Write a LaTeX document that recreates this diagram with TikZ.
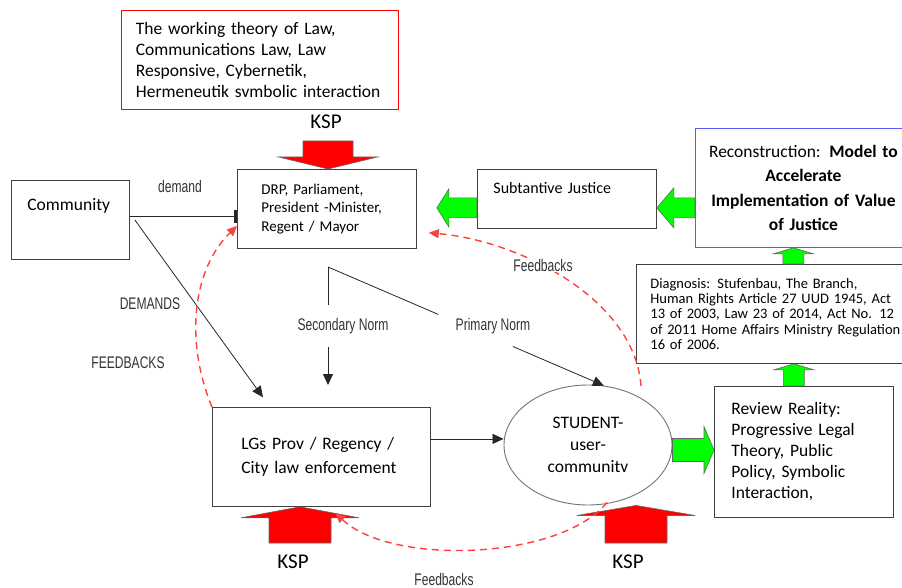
\documentclass[tikz,border=0pt]{standalone}
\usepackage{fontspec}
\setmainfont{Carlito}
\newfontfamily\agency[FakeStretch=0.72]{Liberation Sans}
\usetikzlibrary{arrows.meta,calc,positioning,shapes.geometric}

\definecolor{kspred}{RGB}{255,0,0}
\definecolor{justgreen}{RGB}{0,255,0}
\definecolor{fbred}{RGB}{255,64,64}
\definecolor{boxgray}{RGB}{64,64,64}
\definecolor{reconblue}{RGB}{90,90,255}

\tikzset{
  box/.style={draw=boxgray, line width=0.8pt, anchor=north west, align=left},
  txt/.style={font=\fontsize{17.5}{21}\selectfont},
  tag/.style={font=\agency\fontsize{16.8}{19}\selectfont, text=black!80, inner sep=1pt},
  ksp/.style={font=\fontsize{21}{24}\selectfont, inner sep=0pt},
  arr/.style={draw=black!85, line width=0.8pt, -{Triangle[length=11pt,width=10pt]}},
  fb/.style={draw=fbred, line width=1.4pt, dash pattern=on 7pt off 5pt, -{Triangle[length=10pt,width=9pt]}},
  fat arrow/.style n args={3}{to path={
    ($(\tikztotarget)!#3!(\tikztostart)$) coordinate (fa head)
    ($(\tikztostart)!#1!90:(\tikztotarget)$)
    -- ($(fa head)!#1!-90:(\tikztostart)$)
    -- ($(fa head)!#2!-90:(\tikztostart)$)
    -- (\tikztotarget)
    -- ($(fa head)!#2!90:(\tikztostart)$)
    -- ($(fa head)!#1!90:(\tikztostart)$)
    -- ($(\tikztostart)!#1!-90:(\tikztotarget)$)
    -- cycle}},
  ksparrow/.style={fill=kspred, draw=black!60, line width=0.6pt, line join=miter},
  greenarrow/.style={fill=justgreen, draw=black!60, line width=0.6pt, line join=miter},
}

\begin{document}
\begin{tikzpicture}[x=1pt,y=-1pt]
  \useasboundingbox (0,0) rectangle (902,588);

  % Boxes
  \node[box, draw=red, txt, minimum width=277pt, minimum height=99pt, inner xsep=14.5pt, text width=248pt] (theory) at (121,10)
    {The working theory of Law,\\Communications Law, Law\\Responsive, Cybernetik,\\Hermeneutik svmbolic interaction};
  \node[box, font=\fontsize{15}{18.5}\selectfont, minimum height=79pt, inner xsep=24pt, text width=131pt] (drp) at (237,169)
    {DRP, Parliament,\\President -Minister,\\Regent / Mayor};
  \node[box, txt, inner xsep=16pt, inner ysep=7pt, text width=86pt, text height=23pt, text depth=42pt] (comm) at (11,180) {Community};
  \node[box, font=\fontsize{16}{19}\selectfont, inner xsep=16pt, inner ysep=5pt, text width=147pt, text height=19pt, text depth=30pt] (subst) at (477,169) {Subtantive Justice};
  \node[box, draw=reconblue, font=\fontsize{17.5}{24.5}\selectfont, align=center, minimum height=119pt, inner xsep=8pt, text width=200pt] (recon) at (695,128)
    {Reconstruction: \textbf{Model to}\\\textbf{Accelerate}\\\textbf{Implementation of Value}\\\textbf{of Justice}};
  \node[box, font=\fontsize{14.5}{15.3}\selectfont, minimum height=99pt, inner xsep=14pt, text width=252pt] (diag) at (636,264)
    {Diagnosis: Stufenbau, The Branch,\\Human Rights Article 27 UUD 1945, Act\\13 of 2003, Law 23 of 2014, Act No. 12\\of 2011 Home Affairs Ministry Regulation\\16 of 2006.};
  \node[box, txt, minimum height=131pt, inner xsep=17pt, text width=145pt] (review) at (714,386)
    {Review Reality:\\Progressive Legal\\Theory, Public\\Policy, Symbolic\\Interaction,};
  \node[box, font=\fontsize{17.5}{24}\selectfont, minimum height=99pt, inner xsep=29pt, text width=160pt] (lgs) at (212,407)
    {LGs Prov / Regency /\\City law enforcement};
  \node[ellipse, draw=black!55, line width=0.9pt, font=\fontsize{17.5}{22}\selectfont, align=center, minimum width=168pt, minimum height=120pt, inner sep=0pt] (stu) at (588,445)
    {STUDENT-\\user-\\communitv};

  % KSP arrows
  \coordinate (kspTtail) at (328,141);
  \coordinate (kspTtip) at (kspTtail |- drp.north);
  \draw[ksparrow, fat arrow={25pt}{49.5pt}{12pt}] (kspTtail) to (kspTtip);
  \node[ksp, above=12pt of kspTtail, xshift=-2pt] (kspT) {KSP};
  \coordinate (kspLtail) at (300,543);
  \coordinate (kspLtip) at (kspLtail |- lgs.south);
  \draw[ksparrow, fat arrow={31pt}{59pt}{11pt}] (kspLtail) to (kspLtip);
  \node[ksp, below=12pt of kspLtail, xshift=-7pt] (kspL) {KSP};
  \coordinate (kspRtail) at (636,543);
  \coordinate (kspRtip) at (kspRtail |- stu.south);
  \draw[ksparrow, fat arrow={31pt}{59pt}{10pt}] (kspRtail) to (kspRtip);
  \node[ksp, below=12pt of kspRtail, xshift=-8pt] (kspR) {KSP};

  % Green arrows
  \coordinate (gsub) at ([yshift=-9pt]subst.east);
  \coordinate (grec) at (recon.west |- gsub);
  \draw[greenarrow, fat arrow={10pt}{20pt}{17pt}] (grec) to (gsub);
  \coordinate (gsubw) at (subst.west |- gsub);
  \coordinate (gdrp) at ($(drp.east |- gsub)+(20,0)$);
  \draw[greenarrow, fat arrow={10pt}{19pt}{12pt}] (gsubw) to (gdrp);
  \coordinate (gstu) at ([yshift=-5pt]stu.east);
  \coordinate (grev) at (review.west |- gstu);
  \draw[greenarrow, fat arrow={11.5pt}{23.5pt}{10pt}] (gstu) to (grev);
  \coordinate (grevn) at ([xshift=-10pt]review.north);
  \coordinate (gdiags) at (grevn |- diag.south);
  \draw[greenarrow, fat arrow={10.5pt}{20pt}{6pt}] (grevn) to (gdiags);
  \coordinate (grecs) at ([xshift=-10pt]recon.south);
  \coordinate (gdiagn) at (grecs |- diag.north);
  \draw[greenarrow, fat arrow={10.5pt}{20pt}{6pt}] (gdiagn) to (grecs);

  % Demands and norms
  \coordinate (demline) at ([yshift=3.5pt]comm.east);
  \draw[draw=black!85, line width=0.8pt, -{Rectangle[length=3pt,width=12pt]}] (demline) -- (demline -| drp.west);
  \node[tag] (demlbl) at (180,186) {demand};
  \draw[arr, shorten >=12pt] ([xshift=5pt]comm.east) -- ([xshift=58pt]lgs.north west);
  \node[tag] (demandslbl) at (150,304) {DEMANDS};
  \node[tag] (fbLlbl) at (128,363) {FEEDBACKS};

  \coordinate (split) at (328,267);
  \node[tag, inner ysep=13pt] (secnorm) at (343,326) {Secondary Norm};
  \node[tag, inner ysep=13pt] (primnorm) at (493,326) {Primary Norm};
  \draw[line width=0.8pt, black!85] (split) -- (split |- secnorm.north);
  \draw[arr, shorten >=22pt] (split |- secnorm.south) -- (split |- lgs.north);
  \draw[line width=0.8pt, black!85] (split) -- ($(split)!0.4!(stu.75)$);
  \draw[arr] ($(split)!0.67!(stu.75)$) -- (stu.75);
  \coordinate (lgsline) at ([yshift=18pt]lgs.east);
  \draw[arr] (lgsline) -- (lgsline -| stu.west);

  % Feedbacks
  \coordinate (fbLend) at ([yshift=-17pt]drp.west);
  \draw[fb] (lgs.north west) .. controls +(-27,-65) and +(-45,44) .. (fbLend);
  \coordinate (fbRstart) at (641,386);
  \coordinate (fbRend) at ([xshift=12pt,yshift=16pt]drp.south east);
  \draw[fb] (fbRstart) .. controls +(-6,-86) and +(92,8) .. (fbRend);
  \node[tag, fill=white] (fbRlbl) at (543,265) {Feedbacks};
  \coordinate (fbBstart) at ([xshift=19pt,yshift=3pt]stu.south);
  \coordinate (fbBend) at ([xshift=14pt,yshift=-6pt]lgs.south);
  \draw[fb] (fbBstart) .. controls +(-47,58) and +(55,53) .. (fbBend);
  \node[tag] (fbBlbl) at (444,579) {Feedbacks};
\end{tikzpicture}
\end{document}
